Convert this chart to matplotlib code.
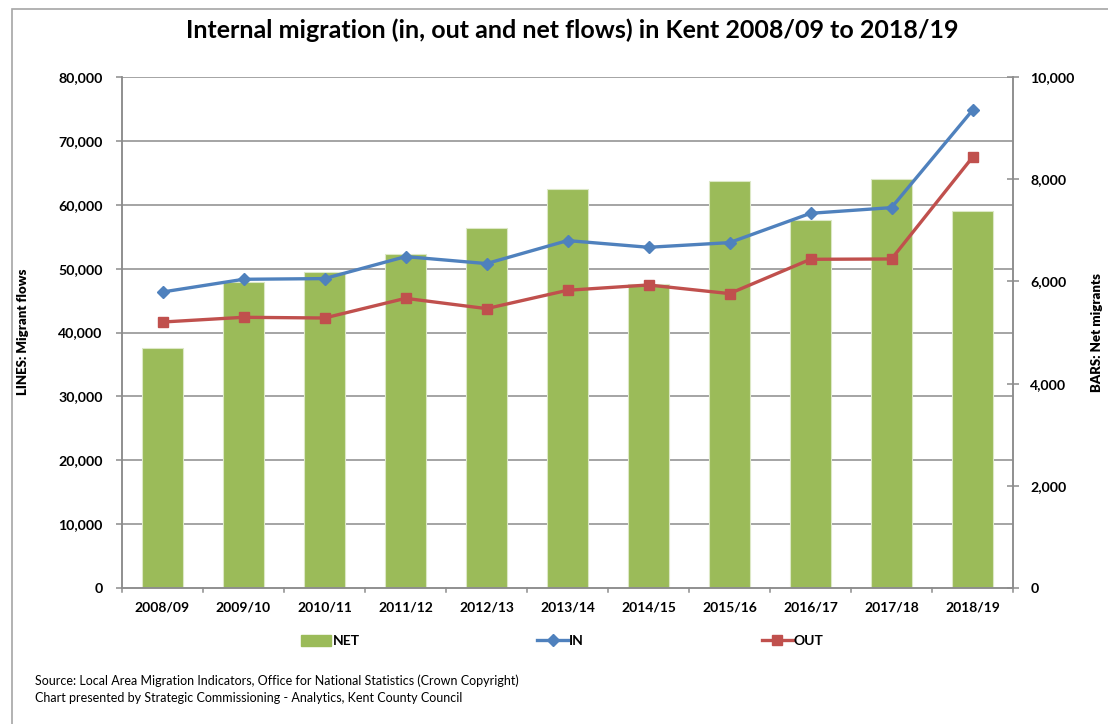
import matplotlib
matplotlib.use("Agg")
import matplotlib.pyplot as plt
from matplotlib.patches import Rectangle, Patch
from matplotlib.lines import Line2D
from matplotlib.ticker import FuncFormatter, MultipleLocator
import numpy as np

plt.rcParams['font.family'] = ['Lato', 'DejaVu Sans']

years = ["2008/09", "2009/10", "2010/11", "2011/12", "2012/13", "2013/14",
         "2014/15", "2015/16", "2016/17", "2017/18", "2018/19"]
net = [4700, 5990, 6190, 6540, 7040, 7810, 5950, 7960, 7200, 8000, 7380]
inflow = [46340, 48330, 48440, 51880, 50790, 54390, 53340, 54070, 58660, 59550, 74790]
outflow = [41640, 42380, 42270, 45350, 43740, 46610, 47440, 46090, 51460, 51510, 67430]

C_NET = "#9BBB59"
C_IN = "#4F81BD"
C_OUT = "#C0504D"
GRID = "#8C8C8C"

W, H = 1108, 724
fig = plt.figure(figsize=(W / 100, H / 100), dpi=100)

# outer chart border
fig.patches.append(Rectangle((12 / W, -0.1), 1.2, 1 - 9 / H + 0.1, transform=fig.transFigure,
                             fill=False, edgecolor="#A6A6A6", linewidth=1.2))

ax = fig.add_axes([122 / W, 1 - 588 / H, (1013 - 122) / W, (588 - 77) / H])
ax2 = ax.twinx()

x = np.arange(len(years))
ax2.bar(x, net, width=0.5, color=C_NET, edgecolor="#DCE8C6", linewidth=0.8, zorder=2)

ax.set_zorder(ax2.get_zorder() + 1)
ax.patch.set_visible(False)

ax.plot(x, inflow, color=C_IN, linewidth=2.4, marker="D", markersize=6.5, zorder=5)
ax.plot(x, outflow, color=C_OUT, linewidth=2.4, marker="s", markersize=7.5, zorder=5)

ax.set_xlim(-0.5, len(years) - 0.5)
ax.set_ylim(0, 80000)
ax2.set_ylim(0, 10000)

fmt = FuncFormatter(lambda v, p: f"{int(v):,}")
ax.yaxis.set_major_locator(MultipleLocator(10000))
ax.yaxis.set_major_formatter(fmt)
ax2.yaxis.set_major_locator(MultipleLocator(2000))
ax2.yaxis.set_major_formatter(fmt)

# gridlines drawn on the bar axis so they sit behind bars
for v in range(10000, 80001, 10000):
    ax2.axhline(v / 8, color=GRID, linewidth=1.1, zorder=1)

ax.set_xticks(x)
ax.set_xticklabels(years)
ax.tick_params(axis="x", length=0, pad=10, labelsize=10)
for b in np.arange(-0.5, len(years) + 0.5, 1):
    ax.plot([b, b], [0, -700], color=GRID, linewidth=1.1, clip_on=False, zorder=1)

ax.tick_params(axis="y", length=4, width=1.1, color=GRID, pad=10, labelsize=10.2)
ax2.tick_params(axis="y", length=9, width=1.1, color=GRID, direction="inout", pad=8, labelsize=10.2)

for lab in ax.get_xticklabels() + ax.get_yticklabels() + ax2.get_yticklabels():
    lab.set_fontweight("bold")

for a in (ax, ax2):
    a.spines["top"].set_visible(False)
    a.spines["left"].set_color(GRID)
    a.spines["right"].set_color(GRID)
    a.spines["bottom"].set_color(GRID)
    for s in a.spines.values():
        s.set_linewidth(1.1)

fig.text(572 / W, 1 - 30 / H, "Internal migration (in, out and net flows) in Kent 2008/09 to 2018/19",
         ha="center", va="center", fontsize=18, fontweight="bold")

fig.text(23 / W, 1 - 332 / H, "LINES: Migrant flows", rotation=90, ha="center", va="center",
         fontsize=9.5, fontweight="heavy")
fig.text(1097 / W, 1 - 332 / H, "BARS: Net migrants", rotation=90, ha="center", va="center",
         fontsize=9.5, fontweight="heavy")

handles = [Patch(facecolor=C_NET, edgecolor=C_NET),
           Line2D([], [], color=C_IN, linewidth=2.4, marker="D", markersize=6.5),
           Line2D([], [], color=C_OUT, linewidth=2.4, marker="s", markersize=7.5)]
fig.legend(handles, ["NET", "IN", "OUT"], loc="center left", bbox_to_anchor=(288 / W, 1 - 641 / H),
           ncol=3, frameon=False, prop={"weight": "bold", "size": 10}, handlelength=2.2,
           handletextpad=0.1, columnspacing=12.8, handleheight=0.9)

fig.text(35 / W, 1 - 681 / H,
         "Source: Local Area Migration Indicators, Office for National Statistics (Crown Copyright)",
         ha="left", va="center", fontsize=9)
fig.text(35 / W, 1 - 698 / H,
         "Chart presented by Strategic Commissioning - Analytics, Kent County Council",
         ha="left", va="center", fontsize=9)

fig.savefig("out.png", dpi=100)
